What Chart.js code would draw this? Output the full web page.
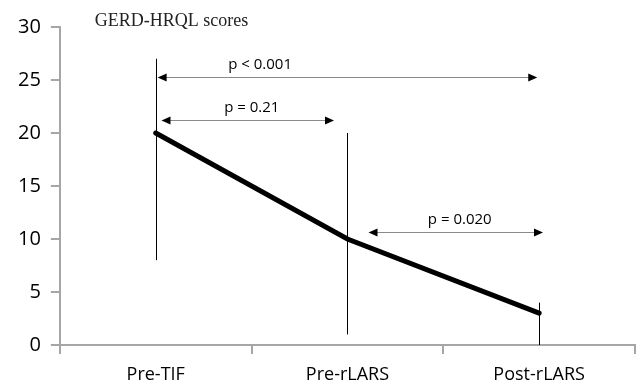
<!DOCTYPE html>
<html>
<head>
<meta charset="utf-8">
<script src="https://cdn.jsdelivr.net/npm/chart.js@4/dist/chart.umd.min.js"></script>
<style>
html,body{margin:0;padding:0;background:#fff;}
#wrap{width:636px;height:384px;}
</style>
</head>
<body>
<div id="wrap"><canvas id="c" width="636" height="384"></canvas></div>
<script>
const categories = ["Pre-TIF", "Pre-rLARS", "Post-rLARS"];
const scores = [20, 10, 3];
const errUpper = [27, 20, 4];
const errLower = [8, 1, 0];
const yTicks = [0, 5, 10, 15, 20, 25, 30];
const chartTitle = "GERD-HRQL scores";
// pairwise comparisons: from / to category position, level on score scale, label
const cmpFrom = [0.01, 0.03, 1.11];
const cmpTo = [1.99, 0.93, 2.02];
const cmpLevel = [25.3, 21.2, 10.7];
const cmpLabel = ["p < 0.001", "p = 0.21", "p = 0.020"];

const overlay = {
  id: 'overlay',
  afterDatasetsDraw(chart) {
    const ctx = chart.ctx, x = chart.scales.x, y = chart.scales.y;
    ctx.save();
    // error bars
    ctx.strokeStyle = '#000'; ctx.lineWidth = 1;
    for (let i = 0; i < scores.length; i++) {
      const px = Math.round(x.getPixelForValue(i)) + 0.5;
      ctx.beginPath();
      ctx.moveTo(px, y.getPixelForValue(errUpper[i]));
      ctx.lineTo(px, y.getPixelForValue(errLower[i]));
      ctx.stroke();
    }
    // comparison arrows
    for (let k = 0; k < cmpLabel.length; k++) {
      const x1 = x.getPixelForValue(cmpFrom[k]);
      const x2 = x.getPixelForValue(cmpTo[k]);
      const py = Math.round(y.getPixelForValue(cmpLevel[k])) + 0.5;
      ctx.strokeStyle = '#8a8a8a'; ctx.lineWidth = 1;
      ctx.beginPath(); ctx.moveTo(x1 + 6, py); ctx.lineTo(x2 - 6, py); ctx.stroke();
      ctx.fillStyle = '#000';
      ctx.beginPath(); ctx.moveTo(x1, py); ctx.lineTo(x1 + 9, py - 4); ctx.lineTo(x1 + 9, py + 4); ctx.closePath(); ctx.fill();
      ctx.beginPath(); ctx.moveTo(x2, py); ctx.lineTo(x2 - 9, py - 4); ctx.lineTo(x2 - 9, py + 4); ctx.closePath(); ctx.fill();
      ctx.fillStyle = '#000';
      ctx.font = '15px "Open Sans", sans-serif';
      ctx.textAlign = 'center'; ctx.textBaseline = 'middle';
      const tx = k === 0 ? x1 + (x2 - x1) * 0.27 : (x1 + x2) / 2 + 4;
      ctx.fillText(cmpLabel[k], tx, py - 13);
    }
    // title
    ctx.fillStyle = '#222';
    ctx.font = '18px "Liberation Serif", serif';
    ctx.textAlign = 'left'; ctx.textBaseline = 'middle';
    ctx.fillText(chartTitle, chart.chartArea.left + 35, 21);
    ctx.restore();
  }
};

new Chart(document.getElementById('c'), {
  type: 'line',
  data: {
    labels: categories,
    datasets: [{
      data: scores,
      borderColor: '#000',
      borderWidth: 5,
      pointRadius: 0,
      borderCapStyle: 'round',
      tension: 0
    }]
  },
  options: {
    responsive: false,
    animation: false,
    devicePixelRatio: 1,
    layout: { padding: { top: 27, right: 1, left: 8, bottom: -12 } },
    plugins: { legend: { display: false }, tooltip: { enabled: false }, title: { display: false } },
    scales: {
      x: {
        type: 'category',
        offset: true,
        grid: { offset: true, drawOnChartArea: false, drawTicks: true, tickLength: 9, color: '#a6a6a6', lineWidth: 2 },
        border: { color: '#a6a6a6', width: 2 },
        ticks: { color: '#000', font: { family: '"Open Sans", sans-serif', size: 18, lineHeight: 1.0 }, padding: 12 }
      },
      y: {
        min: 0, max: 30,
        afterBuildTicks(axis) { axis.ticks = yTicks.map(v => ({ value: v })); },
        grid: { drawOnChartArea: false, drawTicks: true, tickLength: 9, color: '#a6a6a6', lineWidth: 2 },
        border: { color: '#a6a6a6', width: 2 },
        ticks: { color: '#000', font: { family: '"Open Sans", sans-serif', size: 20 }, padding: 10 }
      }
    }
  },
  plugins: [overlay]
});
</script>
</body>
</html>
